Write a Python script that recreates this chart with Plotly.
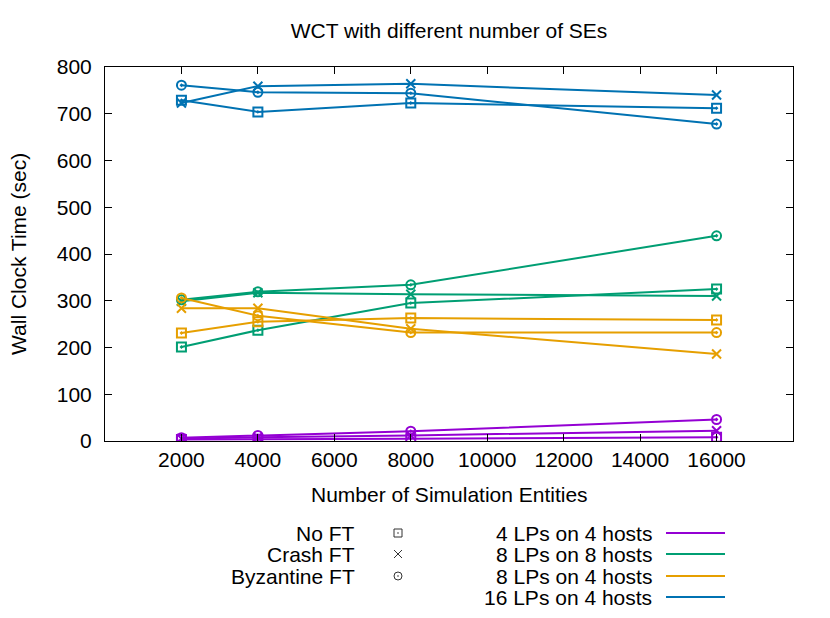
import plotly.graph_objects as go

x_vals = [2000, 4000, 8000, 16000]

configs = ["4 LPs on 4 hosts", "8 LPs on 8 hosts", "8 LPs on 4 hosts", "16 LPs on 4 hosts"]
colors = ["#9400d3", "#009e73", "#e69f00", "#0072b2"]

ft_modes = ["No FT", "Crash FT", "Byzantine FT"]
symbols = ["square-open-dot", "x-thin-open", "circle-open-dot"]

no_ft_4on4 = [3, 4, 5, 8]
crash_4on4 = [5, 8, 12, 22]
byz_4on4 = [7, 12, 21, 46]

no_ft_8on8 = [201, 237, 295, 325]
crash_8on8 = [299, 317, 314, 310]
byz_8on8 = [302, 319, 334, 439]

no_ft_8on4 = [231, 255, 263, 259]
crash_8on4 = [284, 284, 240, 186]
byz_8on4 = [306, 268, 232, 232]

no_ft_16on4 = [729, 704, 723, 712]
crash_16on4 = [723, 759, 764, 740]
byz_16on4 = [761, 746, 744, 678]

values = [
    [no_ft_4on4, crash_4on4, byz_4on4],
    [no_ft_8on8, crash_8on8, byz_8on8],
    [no_ft_8on4, crash_8on4, byz_8on4],
    [no_ft_16on4, crash_16on4, byz_16on4],
]

y_ticks = [0, 100, 200, 300, 400, 500, 600, 700, 800]
x_ticks = [2000, 4000, 6000, 8000, 10000, 12000, 14000, 16000]

FONT = "Liberation Sans"
FS = 21
W, H = 830, 618
ML, MR, MT, MB = 105, 37, 67, 10
PW = W - ML - MR
PH = H - MT - MB


def px(p):
    return (p - ML) / PW


def py(p):
    return (H - MB - p) / PH


fig = go.Figure()

for ci, cfg in enumerate(configs):
    for fi, ft in enumerate(ft_modes):
        fig.add_trace(go.Scatter(
            x=x_vals, y=values[ci][fi], mode="lines+markers",
            name=f"{cfg} {ft}",
            line=dict(color=colors[ci], width=2),
            marker=dict(symbol=symbols[fi], size=9, color=colors[ci],
                        line=dict(color=colors[ci], width=2)),
            showlegend=False,
        ))

# custom legend (gnuplot style) on a hidden pixel-space axis
row_y = [533, 554, 576, 597]
fig.add_trace(go.Scatter(
    x=[398, 398, 398], y=row_y[:3], mode="markers", xaxis="x2", yaxis="y2",
    marker=dict(symbol=symbols, size=8, color="#333333",
                line=dict(color="#333333", width=1)),
    showlegend=False, hoverinfo="skip",
))

annotations = []
for i, ft in enumerate(ft_modes):
    annotations.append(dict(x=357, y=row_y[i], xref="x2", yref="y2", text=ft,
                            showarrow=False, xanchor="right", yanchor="middle",
                            font=dict(family=FONT, size=FS, color="black")))
shapes = []
for i, cfg in enumerate(configs):
    annotations.append(dict(x=654, y=row_y[i], xref="x2", yref="y2", text=cfg,
                            showarrow=False, xanchor="right", yanchor="middle",
                            font=dict(family=FONT, size=FS, color="black")))
    shapes.append(dict(type="line", x0=666, x1=725, y0=row_y[i], y1=row_y[i],
                       xref="x2", yref="y2", line=dict(color=colors[i], width=2)))

annotations.append(dict(x=px(449), y=py(494), xref="paper", yref="paper",
                        text="Number of Simulation Entities", showarrow=False,
                        xanchor="center", yanchor="middle",
                        font=dict(family=FONT, size=FS, color="black")))
annotations.append(dict(x=px(18), y=py(254), xref="paper", yref="paper",
                        text="Wall Clock Time (sec)", showarrow=False, textangle=-90,
                        xanchor="center", yanchor="middle",
                        font=dict(family=FONT, size=FS, color="black")))

axis_common = dict(showgrid=False, zeroline=False, showline=True, linecolor="black",
                   linewidth=1, mirror="allticks", ticks="inside", ticklen=7,
                   tickcolor="black", tickwidth=1, automargin=False,
                   tickfont=dict(family=FONT, size=FS, color="black"))

fig.update_layout(
    width=W, height=H,
    margin=dict(l=ML, r=MR, t=MT, b=MB, autoexpand=False),
    paper_bgcolor="white", plot_bgcolor="rgba(0,0,0,0)",
    title=dict(text="WCT with different number of SEs", x=px(449), xref="paper",
               xanchor="center", y=1 - 31 / H, yref="container", yanchor="middle",
               font=dict(family=FONT, size=FS, color="black")),
    xaxis=dict(range=[0, 18000], tickvals=x_ticks, ticktext=[str(v) for v in x_ticks],
               anchor="y", ticklabelstandoff=0, **axis_common),
    yaxis=dict(range=[0, 800], tickvals=y_ticks, domain=[py(441), 1], anchor="x",
               ticklabelstandoff=8, **axis_common),
    xaxis2=dict(range=[ML, W - MR], domain=[0, 1], anchor="y2", visible=False,
                fixedrange=True, automargin=False),
    yaxis2=dict(range=[H - MB, MT], domain=[0, 1], anchor="x2", visible=False,
                fixedrange=True, automargin=False),
    annotations=annotations,
    shapes=shapes,
    showlegend=False,
)

fig.write_html("out.html", config={"displayModeBar": False},
               post_script="document.body.style.margin='0px';document.body.style.padding='0px';")
